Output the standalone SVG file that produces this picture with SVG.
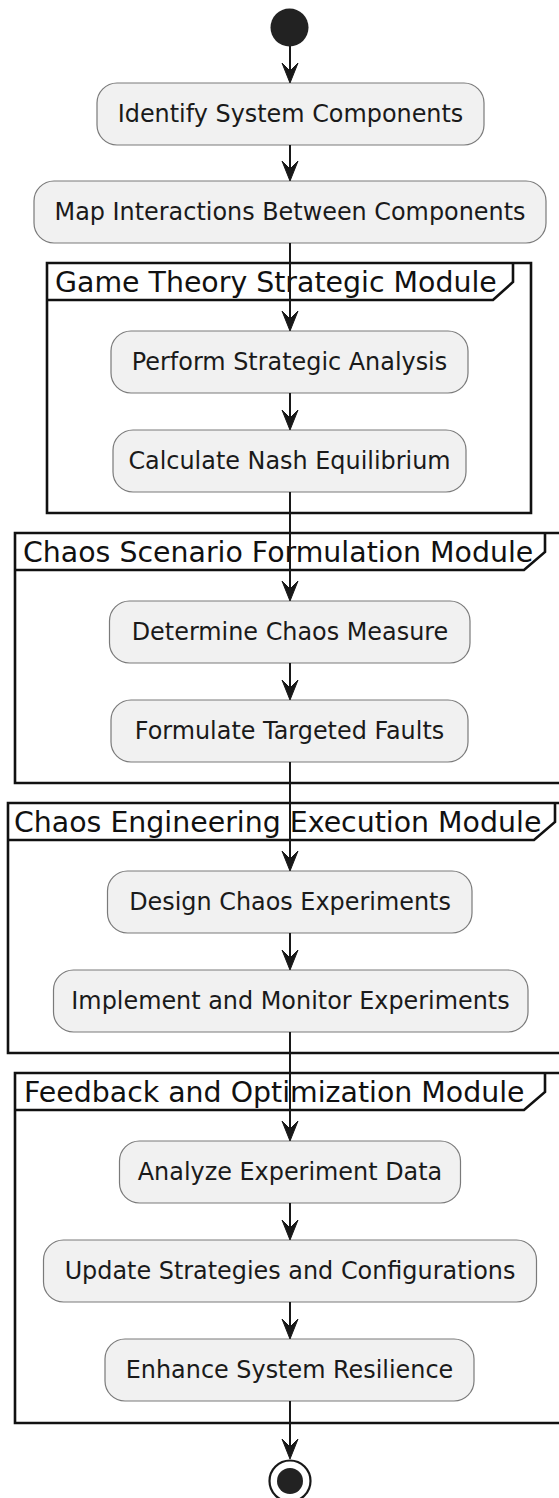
<svg xmlns="http://www.w3.org/2000/svg" width="559" height="1498" viewBox="0 0 559 1498">
<style>
.bg{fill:#ffffff}
.node rect{fill:#f1f1f1;stroke:#7a7a7a;stroke-width:1.2}
.node text{font-family:"DejaVu Sans",sans-serif;font-size:23.9px;fill:#1a1a1a;text-anchor:middle}
.frame path{fill:none;stroke:#111;stroke-width:2.6}
.frame text{font-family:"DejaVu Sans",sans-serif;font-size:28.4px;fill:#111}
.conn line{stroke:#181818;stroke-width:2}
.conn use{fill:#181818;stroke:#181818;stroke-width:1}
</style>
<defs>
<path id="ah" d="M-8,-20 L0,0 L8,-20 L0,-12 Z"/>
</defs>
<rect class="bg" x="0" y="0" width="559" height="1498"/>

<g id="frame-game-theory" class="frame">
<path d="M47,263 H531 V513 H47 Z"/>
<path d="M47,300 H493 L513,282 V263"/>
<text x="55" y="292">Game Theory Strategic Module</text>
</g>
<g id="frame-chaos-scenario" class="frame">
<path d="M15,533 H565 V783 H15 Z"/>
<path d="M15,570 H524 L545,552 V533"/>
<text x="23" y="562">Chaos Scenario Formulation Module</text>
</g>
<g id="frame-chaos-engineering" class="frame">
<path d="M8,803 H565 V1053 H8 Z"/>
<path d="M8,840 H534 L555,822 V803"/>
<text x="14" y="832">Chaos Engineering Execution Module</text>
</g>
<g id="frame-feedback" class="frame">
<path d="M15,1073 H565 V1423 H15 Z"/>
<path d="M15,1110 H524 L545,1092 V1073"/>
<text x="24" y="1102">Feedback and Optimization Module</text>
</g>

<g id="start"><circle cx="289.5" cy="27.5" r="19" fill="#222"/></g>

<g id="n1" class="node"><rect x="97" y="83" width="387" height="62" rx="20"/><text x="290.5" y="122">Identify System Components</text></g>
<g id="n2" class="node"><rect x="34" y="181" width="512" height="62" rx="20"/><text x="290" y="220">Map Interactions Between Components</text></g>
<g id="n3" class="node"><rect x="111" y="331" width="357" height="62" rx="20"/><text x="289.5" y="370">Perform Strategic Analysis</text></g>
<g id="n4" class="node"><rect x="113" y="430" width="353" height="62" rx="20"/><text x="289.5" y="469">Calculate Nash Equilibrium</text></g>
<g id="n5" class="node"><rect x="109.5" y="601" width="360.5" height="62" rx="20"/><text x="290" y="640">Determine Chaos Measure</text></g>
<g id="n6" class="node"><rect x="111" y="700" width="357" height="62" rx="20"/><text x="289.5" y="739">Formulate Targeted Faults</text></g>
<g id="n7" class="node"><rect x="107.5" y="871" width="364.5" height="62" rx="20"/><text x="290" y="910">Design Chaos Experiments</text></g>
<g id="n8" class="node"><rect x="53.5" y="970" width="474.5" height="62" rx="20"/><text x="290.5" y="1009">Implement and Monitor Experiments</text></g>
<g id="n9" class="node"><rect x="119.5" y="1141" width="341" height="62" rx="20"/><text x="290" y="1180">Analyze Experiment Data</text></g>
<g id="n10" class="node"><rect x="43.5" y="1240" width="493" height="62" rx="20"/><text x="290" y="1279">Update Strategies and Configurations</text></g>
<g id="n11" class="node"><rect x="105" y="1339" width="369" height="62" rx="20"/><text x="289.5" y="1378">Enhance System Resilience</text></g>

<g id="end"><circle cx="290" cy="1481" r="20.5" fill="#fff" stroke="#181818" stroke-width="2.2"/><circle cx="290" cy="1481" r="13" fill="#222"/></g>

<g id="connectors" class="conn">
<line x1="290" y1="46" x2="290" y2="80"/><use href="#ah" x="290" y="83"/>
<line x1="290" y1="145" x2="290" y2="178"/><use href="#ah" x="290" y="181"/>
<line x1="290" y1="243" x2="290" y2="328"/><use href="#ah" x="290" y="331"/>
<line x1="290" y1="393" x2="290" y2="427"/><use href="#ah" x="290" y="430"/>
<line x1="290" y1="492" x2="290" y2="598"/><use href="#ah" x="290" y="601"/>
<line x1="290" y1="663" x2="290" y2="697"/><use href="#ah" x="290" y="700"/>
<line x1="290" y1="762" x2="290" y2="868"/><use href="#ah" x="290" y="871"/>
<line x1="290" y1="933" x2="290" y2="967"/><use href="#ah" x="290" y="970"/>
<line x1="290" y1="1032" x2="290" y2="1138"/><use href="#ah" x="290" y="1141"/>
<line x1="290" y1="1203" x2="290" y2="1237"/><use href="#ah" x="290" y="1240"/>
<line x1="290" y1="1302" x2="290" y2="1336"/><use href="#ah" x="290" y="1339"/>
<line x1="290" y1="1401" x2="290" y2="1456"/><use href="#ah" x="290" y="1459"/>
</g>
</svg>
